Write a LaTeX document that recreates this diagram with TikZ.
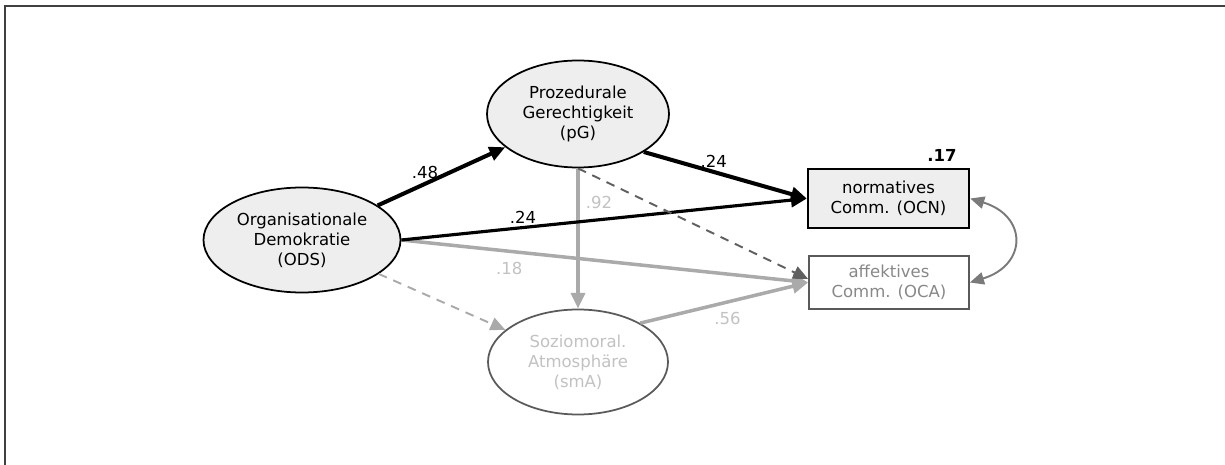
\documentclass[tikz,border=0pt]{standalone}
\usepackage{fontspec}
\setmainfont{DejaVu Sans}
\usepackage{xcolor}
\definecolor{latentfill}{HTML}{EEEEEE}
\definecolor{pathgray}{HTML}{AAAAAA}
\definecolor{labelgray}{HTML}{C2C2C2}
\definecolor{dashgray}{HTML}{606060}
\definecolor{edgegray}{HTML}{5A5A5A}
\definecolor{obsgray}{HTML}{888888}
\definecolor{covgray}{HTML}{7A7A7A}
\definecolor{framegray}{HTML}{404040}
\usetikzlibrary{calc,arrows.meta,shapes.geometric}

\begin{document}
\begin{tikzpicture}[font=\fontsize{9.4}{11.3}\selectfont,
		latent/.style={ellipse, draw=black, line width=1pt, fill=latentfill, align=center, inner sep=0pt},
		manifest/.style={rectangle, draw=black, line width=1.4pt, fill=latentfill, align=center, inner sep=0pt},
		coef/.style={inner sep=1.5pt},
		strongpath/.style={line width=2.3pt, -{Triangle[length=9pt,width=8pt]}},
		weakpath/.style={pathgray, line width=2pt, -{Triangle[length=9pt,width=8pt]}},
		dashpath/.style={line width=1.1pt, dash pattern=on 5pt off 4pt, -{Triangle[length=8.5pt,width=7.5pt]}}]
			% Frame
			\useasboundingbox (0,0) rectangle (24.5,-9.3);
			\draw[framegray, line width=1.1pt] (0.1,-0.12) rectangle (25,-10);

			% Latent variables
			\node[latent, minimum width=3.94cm, minimum height=2.1cm] (ODS) at (6.04,-4.8) {Organisationale\\Demokratie\\(ODS)};
			\node[latent, minimum width=3.64cm, minimum height=2.14cm] (pG) at (11.56,-2.28) {Prozedurale\\Gerechtigkeit\\(pG)};
			\node[latent, fill=white, draw=edgegray, text=labelgray, minimum width=3.6cm, minimum height=2.1cm] (smA) at (11.56,-7.24) {Soziomoral.\\Atmosphäre\\(smA)};

			% Observed variables
			\node[manifest, minimum width=3.22cm, minimum height=1.18cm] (OCN) at (17.77,-3.97) {normatives\\Comm. (OCN)};
			\node[manifest, fill=white, draw=edgegray, line width=1pt, text=obsgray, minimum width=3.2cm, minimum height=1.06cm] (OCA) at (17.78,-5.65) {affektives\\Comm. (OCA)};
			\node[font=\fontsize{9.4}{11.3}\selectfont\bfseries] (R2) at (18.84,-3.1) {.17};

			% Grey paths first, black ones on top
			\draw[weakpath] (pG.south) -- (smA.north) node[coef, pos=0.245, right=2pt, text=labelgray] {.92};
			\draw[weakpath] (ODS.east) -- (OCA.west) node[coef, pos=0.265, below=3.5pt, text=labelgray] {.18};
			\draw[weakpath] (smA.32) -- (OCA.west) node[coef, pos=0.52, below=3.5pt, text=labelgray] {.56};
			\draw[dashpath, pathgray] (ODS) -- (smA);

			\draw[strongpath] (ODS) -- (pG) node[coef, pos=0.37, above] {.48};
			\draw[strongpath] (pG.-30) -- (OCN.west) node[coef, pos=0.43, above] {.24};
			\draw[strongpath, line width=1.8pt] (ODS.east) -- (OCN.west) node[coef, pos=0.3, above] {.24};
			\draw[dashpath, dashgray] (pG.south) -- ([yshift=2pt]OCA.west);

			% Residual covariance
			\draw[covgray, line width=1.1pt, {Triangle[length=8pt,width=7pt]}-{Triangle[length=8pt,width=7pt]}]
				(OCN.east) .. controls +(1.15,-0.35) and +(1.15,0.35) .. (OCA.east);
		\end{tikzpicture}
\end{document}
